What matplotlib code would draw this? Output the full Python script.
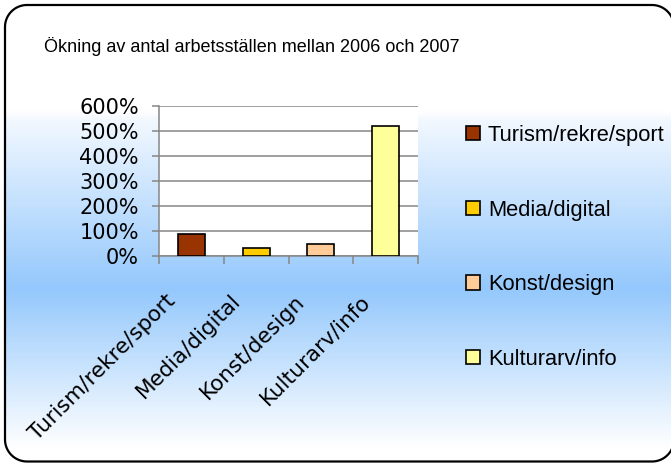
import numpy as np
import matplotlib.pyplot as plt
from matplotlib.patches import Polygon
from matplotlib.colors import LinearSegmentedColormap
from matplotlib.transforms import ScaledTranslation

categories = ["Turism/rekre/sport", "Media/digital", "Konst/design", "Kulturarv/info"]
values = [87, 31, 47, 518]
colors = ["#993300", "#FFCC00", "#FFCC99", "#FFFF99"]
yticks = [0, 100, 200, 300, 400, 500, 600]
title = "Ökning av antal arbetsställen mellan 2006 och 2007"

W, H = 671, 463
fig = plt.figure(figsize=(W / 100, H / 100), dpi=100)


def rounded_box(x0, y0, x1, y1, r, n=20):
    pts = []
    for cx, cy, a0 in [(x1 - r, y1 - r, 0), (x0 + r, y1 - r, 90),
                       (x0 + r, y0 + r, 180), (x1 - r, y0 + r, 270)]:
        t = np.radians(np.linspace(a0, a0 + 90, n))
        pts.append(np.column_stack([cx + r * np.cos(t), cy + r * np.sin(t)]))
    return np.vstack(pts)


# background: rounded box with white -> blue -> white gradient (pixel units)
bg = fig.add_axes([0, 0, 1, 1])
bg.set_axis_off()
cmap = LinearSegmentedColormap.from_list(
    "bg", [(0, "#FFFFFF"), (0.03, "#FFFFFF"), (0.38, "#94C8FC"),
           (0.75, "#F2F8FF"), (0.77, "#FFFFFF"), (1, "#FFFFFF")])
grad = np.repeat(np.linspace(0, 1, 400).reshape(-1, 1), 4, axis=1)
im = bg.imshow(grad, cmap=cmap, aspect="auto", extent=[0, W, 0, 458],
               origin="lower", zorder=1, interpolation="bilinear")
bg.set_xlim(0, W)
bg.set_ylim(0, H)
box = Polygon(rounded_box(5, 1.5, 674, 458, 22), closed=True, facecolor="none",
              edgecolor="black", linewidth=1.6, zorder=3, clip_on=False)
bg.add_patch(box)
im.set_clip_path(box)

fig.text(44 / W, 1 - 52 / H, title, family="Liberation Sans", fontsize=13,
         va="baseline", ha="left")

ax = fig.add_axes([159 / W, 1 - 256 / H, 259 / W, 150 / H])
ax.set_facecolor("white")
x = np.arange(len(categories))
bars = ax.bar(x, values, width=0.42, color=colors, edgecolor="black",
              linewidth=1.2, zorder=3)
ax.set_xlim(-0.5, len(categories) - 0.5)
ax.set_ylim(0, 600)
ax.set_yticks(yticks)
ax.set_yticklabels([f"{v}%" for v in yticks], family="DejaVu Sans", fontsize=15)
ax.grid(axis="y", color="#868686", linewidth=1.1, zorder=1)
for s in ["top", "right"]:
    ax.spines[s].set_visible(False)
for s in ["left", "bottom"]:
    ax.spines[s].set_color("#868686")
    ax.spines[s].set_linewidth(1.1)
ax.tick_params(axis="y", length=5, width=1.1, color="#868686", pad=9.5)

ax.set_xticks(x)
ax.set_xticks(np.arange(len(categories) + 1) - 0.5, minor=True)
ax.tick_params(axis="x", which="minor", length=5.8, width=1.1, color="#868686")
ax.tick_params(axis="x", which="major", length=0, pad=25)
ax.set_xticklabels(categories, family="DejaVu Sans", fontsize=15.5, rotation=45,
                   ha="right", va="top", rotation_mode="anchor")
shift = ScaledTranslation(-0.26, 0, fig.dpi_scale_trans)
for lab in ax.get_xticklabels():
    lab.set_transform(lab.get_transform() + shift)

ax.legend(bars, categories, loc="upper left", bbox_to_anchor=(466 / W, 1 - 125 / H),
          bbox_transform=fig.transFigure, frameon=False,
          prop={"family": "Liberation Sans", "size": 15.75},
          handlelength=0.62, handleheight=0.62, handletextpad=0.38,
          labelspacing=2.45, borderpad=0, borderaxespad=0)

fig.savefig("out.png", dpi=100)
